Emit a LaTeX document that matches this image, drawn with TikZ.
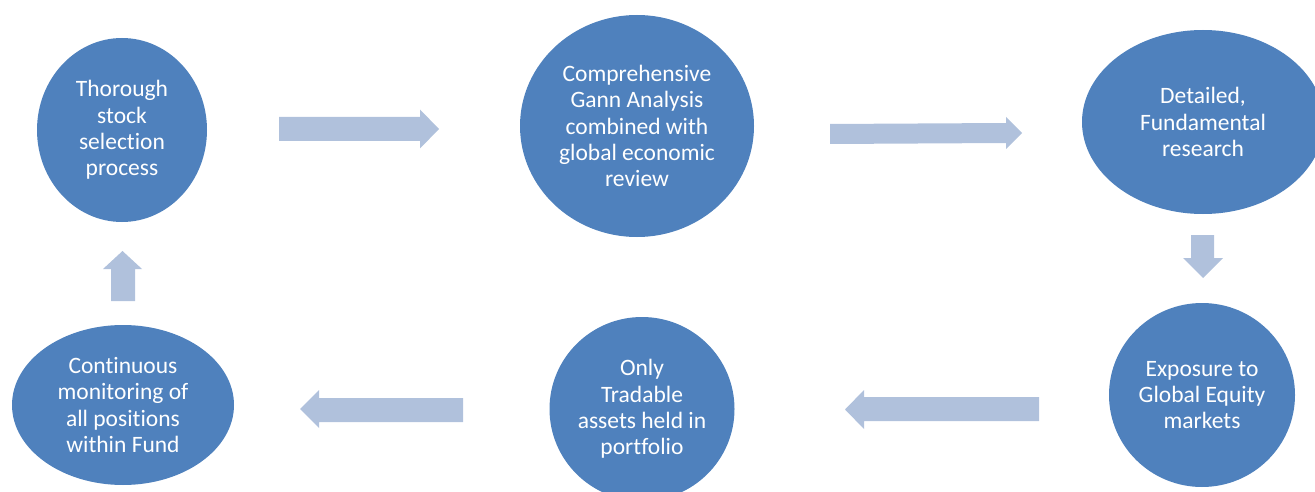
\documentclass[tikz,border=0pt]{standalone}
\usepackage{fontspec}
\setmainfont[Ligatures=NoCommon]{Carlito}
\usetikzlibrary{shapes.geometric}
\definecolor{bubble}{HTML}{4F81BD}
\definecolor{blockarrow}{HTML}{B0C1DC}
\tikzset{
  bubble/.style={ellipse, fill=bubble, draw=none, inner sep=0pt, text=white,
    align=center, font=\fontsize{23.5}{26.3}\selectfont},
  blockarrow/.style={fill=blockarrow, draw=none}
}
\begin{document}
\begin{tikzpicture}[x=1pt,y=-1pt]
\useasboundingbox (0,0) rectangle (1315,492);
\clip (0,0) rectangle (1315,492);
% bubbles
\node[bubble, minimum width=170pt, minimum height=184pt] (thorough) at (122,130)
  {Thorough\\stock\\selection\\process};
\node[bubble, minimum width=234pt, minimum height=222pt] (gann) at (637,126)
  {Comprehensive\\Gann Analysis\\combined with\\global economic\\review};
\node[bubble, minimum width=242pt, minimum height=184pt] (fund) at (1203,122)
  {Detailed,\\Fundamental\\research};
\node[bubble, minimum width=186pt, minimum height=184pt] (expo) at (1202,395)
  {Exposure to\\Global Equity\\markets};
\node[bubble, minimum width=185pt, minimum height=184pt] (only) at (642,409)
  {Only\\Tradable\\assets held in\\portfolio};
\node[bubble, minimum width=222pt, minimum height=160pt] (cont) at (123,405)
  {Continuous\\monitoring of\\all positions\\within Fund};
% block arrows
% thorough -> gann
\fill[blockarrow] (279,117) -- (420,117) -- (420,109.5) -- (439,129) -- (420,148.5) -- (420,141) -- (279,141) -- cycle;
% gann -> fund
\fill[blockarrow] (830,124) -- (1006,123) -- (1006,117) -- (1022,133) -- (1006,149) -- (1006,143) -- (830,144) -- cycle;
% fund -> expo (down)
\fill[blockarrow] (1191,235) -- (1214,235) -- (1214,258) -- (1223,258) -- (1203,278) -- (1183,258) -- (1191,258) -- cycle;
% expo -> only (left)
\fill[blockarrow] (1039,397) -- (864,397) -- (864,390) -- (845,409.5) -- (864,429) -- (864,421) -- (1039,421) -- cycle;
% only -> cont (left)
\fill[blockarrow] (463,398) -- (319,398) -- (319,390) -- (300,409) -- (319,428) -- (319,422) -- (463,422) -- cycle;
% cont -> thorough (up)
\fill[blockarrow] (111,301) -- (111,269) -- (103,269) -- (122.5,251) -- (142,269) -- (135,269) -- (135,301) -- cycle;
\end{tikzpicture}
\end{document}
